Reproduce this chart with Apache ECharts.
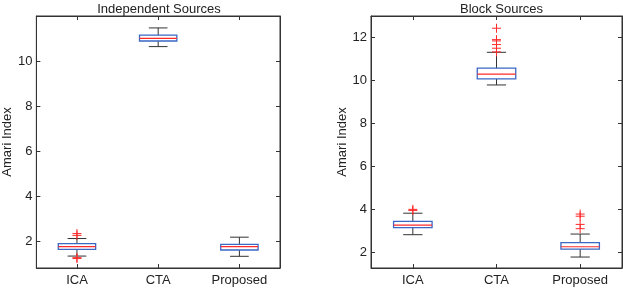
<!DOCTYPE html>
<html><head><meta charset="utf-8">
<script src="https://cdn.jsdelivr.net/npm/echarts@6/dist/echarts.min.js"></script>
<style>html,body{margin:0;padding:0;background:#fff}#c{width:623px;height:289px}</style>
</head><body><div id="c"></div>
<script>
const categories = ['ICA', 'CTA', 'Proposed'];
const titles = ['Independent Sources', 'Block Sources'];
const yName = 'Amari Index';
// [lowWhisker, q1, median, q3, highWhisker]
const indepBox = [[1.33, 1.63, 1.75, 1.88, 2.11], [10.64, 10.89, 11.01, 11.15, 11.47], [1.32, 1.60, 1.75, 1.85, 2.17]];
const indepOutliers = [[0, 2.33], [0, 2.25], [0, 1.26], [0, 1.22]];
const blockBox = [[2.82, 3.15, 3.27, 3.44, 3.82], [9.79, 10.07, 10.29, 10.57, 11.31], [1.78, 2.15, 2.26, 2.45, 2.85]];
const blockOutliers = [[0, 4.0], [0, 3.95], [1, 12.43], [1, 11.9], [1, 11.84], [1, 11.67], [1, 11.5], [1, 11.33], [2, 3.78], [2, 3.68], [2, 3.3], [2, 3.1]];
const indepTicks = [2, 4, 6, 8, 10];
const blockTicks = [2, 4, 6, 8, 10, 12];

const FONT = 'Liberation Sans';
const BLUE = '#3a68c4', RED = '#ff2a2a', DARK = '#333';

function boxRender(params, api) {
  const x = api.value(0);
  const lo = api.coord([x, api.value(1)]);
  const q1 = api.coord([x, api.value(2)]);
  const md = api.coord([x, api.value(3)]);
  const q3 = api.coord([x, api.value(4)]);
  const hi = api.coord([x, api.value(5)]);
  const bw = api.size([1, 0])[0] * 0.46;
  const cx = lo[0];
  const cw = bw / 4;
  const wStyle = {stroke: DARK, lineWidth: 1, fill: null};
  return {type: 'group', children: [
    {type: 'line', shape: {x1: cx, y1: hi[1], x2: cx, y2: q3[1]}, style: wStyle},
    {type: 'line', shape: {x1: cx, y1: q1[1], x2: cx, y2: lo[1]}, style: wStyle},
    {type: 'line', shape: {x1: cx - cw, y1: hi[1], x2: cx + cw, y2: hi[1]}, style: wStyle},
    {type: 'line', shape: {x1: cx - cw, y1: lo[1], x2: cx + cw, y2: lo[1]}, style: wStyle},
    {type: 'rect', shape: {x: cx - bw / 2, y: q3[1], width: bw, height: q1[1] - q3[1]}, style: {stroke: BLUE, lineWidth: 1.3, fill: '#fff'}},
    {type: 'line', shape: {x1: cx - bw / 2, y1: md[1], x2: cx + bw / 2, y2: md[1]}, style: {stroke: RED, lineWidth: 1.2}}
  ]};
}
function plusRender(params, api) {
  const p = api.coord([api.value(0), api.value(1)]);
  const s = 4.5;
  const st = {stroke: RED, lineWidth: 1};
  return {type: 'group', children: [
    {type: 'line', shape: {x1: p[0] - s, y1: p[1], x2: p[0] + s, y2: p[1]}, style: st},
    {type: 'line', shape: {x1: p[0], y1: p[1] - s, x2: p[0], y2: p[1] + s}, style: st}
  ]};
}

const grids = [
  {left: 28, top: 16, width: 252, height: 252},
  {left: 371, top: 16, width: 251, height: 252}
];
const yRanges = [[0.8, 12], [1.27, 13]];
const yTicks = [indepTicks, blockTicks];
const boxes = [indepBox, blockBox];
const outs = [indepOutliers, blockOutliers];
const nameGaps = [15, 17];

const xAxis = [], yAxis = [], series = [], title = [];
grids.forEach((g, i) => {
  g.show = true; g.borderColor = DARK; g.borderWidth = 1; g.backgroundColor = '#fff';
  title.push({text: titles[i], left: g.left + g.width / 2, top: -2, textAlign: 'center',
    textStyle: {fontFamily: FONT, fontSize: 13, fontWeight: 'normal', color: '#222'}});
  ['bottom', 'top'].forEach((pos, k) => {
    xAxis.push({type: 'category', gridIndex: i, position: pos, data: categories,
      boundaryGap: true,
      axisLine: {show: true, lineStyle: {color: DARK}},
      axisTick: {show: true, inside: true, length: 4, alignWithLabel: true, lineStyle: {color: DARK}},
      axisLabel: {show: k === 0, fontFamily: FONT, fontSize: 13, color: '#222', margin: 6},
      splitLine: {show: false}});
  });
  ['left', 'right'].forEach((pos, k) => {
    yAxis.push({type: 'value', gridIndex: i, position: pos, min: yRanges[i][0], max: yRanges[i][1],
      name: k === 0 ? yName : '', nameLocation: 'middle', nameGap: nameGaps[i],
      nameTextStyle: {fontFamily: FONT, fontSize: 13, color: '#222'},
      axisLine: {show: true, lineStyle: {color: DARK}},
      axisTick: {show: true, inside: true, length: 4, customValues: yTicks[i], lineStyle: {color: DARK}},
      axisLabel: {show: k === 0, customValues: yTicks[i], fontFamily: FONT, fontSize: 13, color: '#222', margin: 4},
      splitLine: {show: false}});
  });
  series.push({type: 'custom', xAxisIndex: i * 2, yAxisIndex: i * 2, renderItem: boxRender,
    encode: {x: 0, y: [1, 2, 3, 4, 5]},
    data: boxes[i].map((b, j) => [j].concat(b)), silent: true, z: 3});
  series.push({type: 'custom', xAxisIndex: i * 2, yAxisIndex: i * 2, renderItem: plusRender,
    encode: {x: 0, y: 1}, data: outs[i], silent: true, z: 4});
});

const chart = echarts.init(document.getElementById('c'), null, {renderer: 'canvas'});
chart.setOption({animation: false, backgroundColor: '#fff', title, grid: grids, xAxis, yAxis, series});
</script></body></html>
